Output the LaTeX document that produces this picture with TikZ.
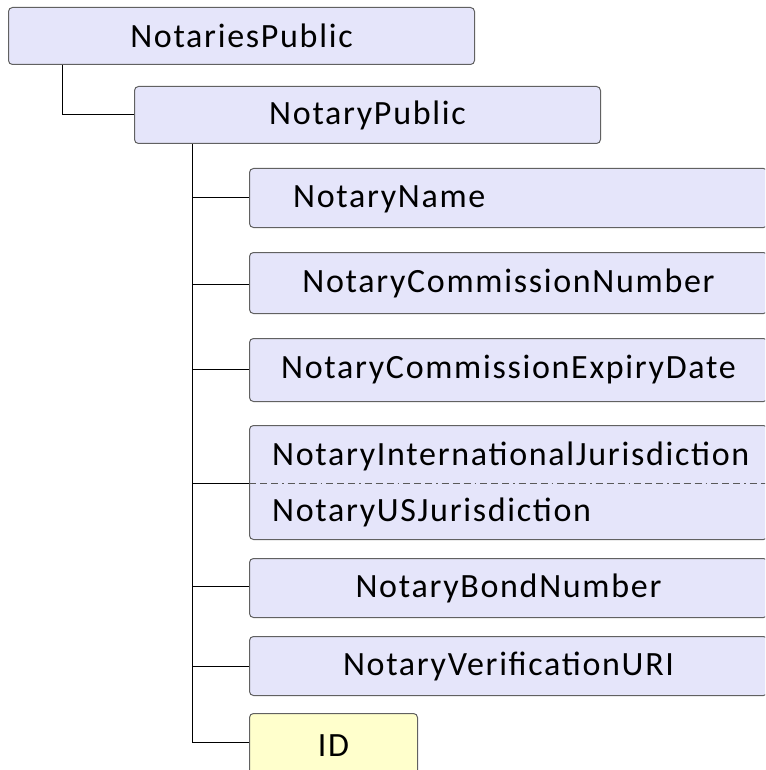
\documentclass[tikz,border=0pt]{standalone}
\usepackage{fontspec}
\setmainfont{Carlito}[LetterSpace=5]
\begin{document}
\begin{tikzpicture}[x=1pt,y=-1pt,
  box/.style={draw=black!62, fill=boxfill, rounded corners=4pt, line width=1pt, inner sep=0pt, anchor=north west, font=\fontsize{34}{38}\selectfont},
  idbox/.style={box, fill=idfill},
  conn/.style={draw=black, line width=1pt},
  lbl/.style={inner sep=0pt, font=\fontsize{34}{38}\selectfont}]
\definecolor{boxfill}{RGB}{229,229,250}
\definecolor{idfill}{RGB}{255,255,204}
\path[use as bounding box] (0,0) rectangle (765,770);
\clip (0,0) rectangle (765,770);
\node[box, minimum width=466, minimum height=57] (root) at (8,7) {NotariesPublic};
\node[box, minimum width=466, minimum height=57] (np) at (134,86) {NotaryPublic};
\node[box, minimum width=518, minimum height=59] (name) at (249,168) {};
\node[lbl, anchor=west] (nameT) at (293,199) {NotaryName};
\node[box, minimum width=518, minimum height=61] (comm) at (249,252) {NotaryCommissionNumber};
\node[box, minimum width=518, minimum height=63] (exp) at (249,338) {NotaryCommissionExpiryDate};
\node[box, minimum width=518, minimum height=114] (choice) at (249,425) {};
\node[lbl, anchor=west] (intl) at (272,456) {NotaryInternationalJurisdiction};
\node[lbl, anchor=west] (us) at (272,512) {NotaryUSJurisdiction};
\node[box, minimum width=518, minimum height=59] (bond) at (249,558) {NotaryBondNumber};
\node[box, minimum width=518, minimum height=59] (uri) at (249,636) {NotaryVerificationURI};
\node[idbox, minimum width=168, minimum height=70] (id) at (249,713) {\raisebox{6pt}{ID}};
\draw[draw=black!65, line width=1pt, dash pattern=on 7pt off 4pt on 7pt off 4pt on 7pt off 4pt on 1.5pt off 4pt] (choice.west |- 0,483) coordinate (cl) -- (choice.east |- 0,483) coordinate (cr);
% connectors
\coordinate (rj) at (62,0);
\draw[conn] (root.south -| rj) |- (np.west);
\coordinate (vj) at (192,0);
\draw[conn] (np.south -| vj) |- (id.west |- 0,742);
\foreach \n/\y in {name/197, comm/284, exp/369, choice/483, bond/586, uri/666} {
  \draw[conn] (vj |- 0,\y) -- (\n.west |- 0,\y);
}
\end{tikzpicture}
\end{document}
